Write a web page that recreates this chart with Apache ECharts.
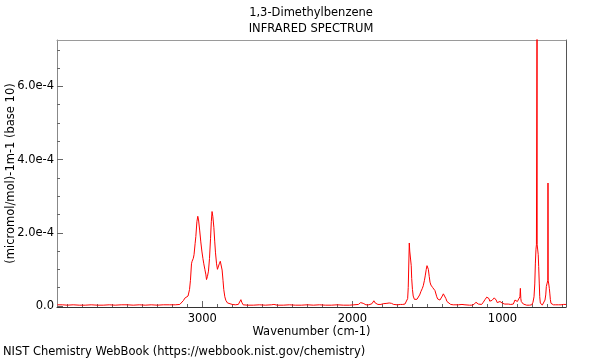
<!DOCTYPE html>
<html>
<head>
<meta charset="utf-8">
<script src="https://cdn.jsdelivr.net/npm/echarts@6/dist/echarts.min.js"></script>
<style>html,body{margin:0;padding:0;background:#fff}#c{width:600px;height:360px}</style>
</head>
<body>
<div id="c"></div>
<script>
// Wavenumber (cm-1), descending
const wavenumbers = [3966,3930,3900,3860,3820,3780,3740,3700,3660,3620,3580,3540,3500,3460,3420,3380,3340,3300,3260,3220,3180,3150,3139,3125,3117,3105,3095,3085,3079,3072,3068,3060,3055,3048,3043,3036,3030,3025,3017,3010,3003,2996,2990,2983,2976,2972,2966,2959,2952,2945,2940,2935,2930,2923,2917,2912,2905,2899,2893,2887,2880,2875,2868,2862,2857,2850,2843,2832,2821,2800,2780,2760,2750,2743,2737,2728,2700,2660,2620,2580,2540,2523,2500,2460,2420,2380,2340,2300,2260,2220,2180,2140,2100,2060,2020,1990,1960,1945,1937,1928,1910,1890,1870,1857,1848,1830,1810,1795,1783,1770,1755,1740,1725,1717,1700,1680,1665,1650,1639,1632,1628,1624,1621,1618,1615,1612,1608,1605,1600,1595,1587,1579,1570,1561,1552,1543,1535,1528,1520,1515,1508,1503,1498,1494,1488,1483,1477,1472,1465,1457,1450,1445,1438,1432,1425,1417,1410,1401,1394,1388,1382,1377,1370,1361,1345,1328,1310,1295,1283,1270,1261,1250,1239,1220,1205,1190,1177,1168,1161,1150,1139,1128,1117,1105,1097,1090,1085,1079,1070,1061,1055,1048,1042,1035,1026,1017,1008,999,985,962,945,928,922,917,909,901,894,888,884,881,878,875,868,861,850,839,820,805,797,790,785,781,777,774,771,770,769,765,762,759,755,752,748,743,735,728,722,717,712,708,704,701,698,697,696,692,688,685,681,677,670,661,645,628,610,595,585,577];
// Absorbance in units of 1e-4 (micromol/mol)-1 m-1
const absorbanceE4 = [0.03,0.03,0.02,0.03,0.02,0.02,0.03,0.02,0.02,0.03,0.02,0.03,0.03,0.02,0.03,0.02,0.03,0.02,0.03,0.03,0.03,0.04,0.05,0.15,0.21,0.23,0.27,0.45,0.7,1.15,1.22,1.3,1.4,1.7,1.9,2.3,2.45,2.35,2.05,1.75,1.5,1.3,1.15,1.0,0.85,0.72,0.8,0.95,1.3,1.85,2.3,2.58,2.45,2.15,1.75,1.45,1.15,1.0,1.05,1.15,1.22,1.18,0.98,0.7,0.45,0.25,0.15,0.08,0.05,0.04,0.03,0.04,0.08,0.17,0.1,0.03,0.02,0.02,0.03,0.02,0.03,0.04,0.02,0.02,0.03,0.02,0.02,0.03,0.02,0.03,0.02,0.02,0.03,0.02,0.02,0.03,0.04,0.09,0.12,0.07,0.03,0.03,0.06,0.14,0.08,0.04,0.04,0.06,0.08,0.07,0.08,0.07,0.04,0.03,0.03,0.04,0.04,0.05,0.07,0.2,0.5,1.2,1.72,1.5,1.55,1.5,1.1,0.75,0.45,0.27,0.18,0.16,0.18,0.22,0.3,0.4,0.47,0.55,0.7,0.82,1.0,1.1,1.08,1.0,0.8,0.65,0.57,0.52,0.5,0.47,0.42,0.38,0.25,0.19,0.16,0.16,0.2,0.27,0.33,0.36,0.3,0.2,0.12,0.07,0.04,0.03,0.03,0.03,0.03,0.04,0.05,0.03,0.02,0.02,0.02,0.04,0.1,0.07,0.05,0.03,0.04,0.1,0.17,0.24,0.27,0.2,0.13,0.12,0.15,0.18,0.22,0.26,0.16,0.09,0.1,0.12,0.09,0.07,0.05,0.05,0.04,0.05,0.1,0.16,0.14,0.12,0.14,0.16,0.25,0.48,0.2,0.12,0.08,0.05,0.03,0.02,0.02,0.03,0.1,0.25,0.6,1.17,1.55,1.67,1.68,7.5,1.67,1.65,1.4,1.08,0.6,0.25,0.08,0.03,0.02,0.02,0.07,0.16,0.3,0.53,0.6,0.65,0.7,3.36,0.7,0.6,0.48,0.35,0.17,0.07,0.04,0.03,0.03,0.03,0.03,0.04,0.03,0.04];

const xMajorTicks = [1000, 2000, 3000];
const xMinorTicks = [600,700,800,900,1100,1200,1300,1400,1500,1600,1700,1800,1900,2100,2200,2300,2400,2500,2600,2700,2800,2900,3100,3200,3300,3400,3500,3600,3700,3800,3900];
const yMajorTicks = [0, 2, 4, 6];
const yMinorTicks = [0.5,1,1.5,2.5,3,3.5,4.5,5,5.5,6.5,7];

const titleLines = ['1,3-Dimethylbenzene', 'INFRARED SPECTRUM'];
const xName = 'Wavenumber (cm-1)';
const yName = '(micromol/mol)-1m-1 (base 10)';
const footer = 'NIST Chemistry WebBook (https://webbook.nist.gov/chemistry)';

const X_MIN = 577, X_MAX = 3968, Y_MIN = -0.03, Y_MAX = 7.27;
const FONT = 'DejaVu Sans';
const FS = 11.5;

const points = wavenumbers.map((w, i) => [w, absorbanceE4[i]]);

const chart = echarts.init(document.getElementById('c'), null, {renderer: 'canvas'});
const common = {type: 'value', min: X_MIN, max: X_MAX, inverse: true, splitLine: {show: false}};
const commonY = {type: 'value', min: Y_MIN, max: Y_MAX, splitLine: {show: false}};
chart.setOption({
  animation: false,
  backgroundColor: '#fff',
  grid: {left: 57, right: 34, top: 40, bottom: 53, containLabel: false, outerBoundsMode: 'none'},
  xAxis: [
    Object.assign({}, common, {
      position: 'bottom',
      axisLine: {show: true, onZero: false, lineStyle: {color: '#333', width: 1}},
      axisTick: {show: true, inside: true, length: 6, customValues: xMajorTicks, lineStyle: {color: '#666'}},
      axisLabel: {show: true, customValues: xMajorTicks, margin: 6, color: '#000', fontSize: FS, fontFamily: FONT,
        formatter: v => String(v)},
      name: xName, nameLocation: 'middle', nameGap: 19, nameMoveOverlap: false,
      nameTextStyle: {color: '#000', fontSize: FS, fontFamily: FONT}
    }),
    Object.assign({}, common, {
      position: 'bottom',
      axisLine: {show: false, onZero: false},
      axisTick: {show: true, inside: true, length: 3, customValues: xMinorTicks, lineStyle: {color: '#666'}},
      axisLabel: {show: false}
    }),
    Object.assign({}, common, {
      position: 'top',
      axisLine: {show: true, onZero: false, lineStyle: {color: '#9a9a9a', width: 1}},
      axisTick: {show: false}, axisLabel: {show: false}
    })
  ],
  yAxis: [
    Object.assign({}, commonY, {
      position: 'left',
      axisLine: {show: true, onZero: false, lineStyle: {color: '#888', width: 1}},
      axisTick: {show: true, inside: true, length: 6, customValues: yMajorTicks, lineStyle: {color: '#666'}},
      axisLabel: {show: true, customValues: yMajorTicks, margin: 3, color: '#000', fontSize: FS, fontFamily: FONT,
        formatter: v => v === 0 ? '0.0' : v.toFixed(1) + 'e-4'},
      name: yName, nameLocation: 'middle', nameGap: 40, nameRotate: 90, nameMoveOverlap: false,
      nameTextStyle: {color: '#000', fontSize: FS, fontFamily: FONT}
    }),
    Object.assign({}, commonY, {
      position: 'left',
      axisLine: {show: false, onZero: false},
      axisTick: {show: true, inside: true, length: 3, customValues: yMinorTicks, lineStyle: {color: '#666'}},
      axisLabel: {show: false}
    }),
    Object.assign({}, commonY, {
      position: 'right',
      axisLine: {show: true, onZero: false, lineStyle: {color: '#555', width: 1}},
      axisTick: {show: false}, axisLabel: {show: false}
    })
  ],
  graphic: [
    {type: 'text', x: 311, y: 13, style: {text: titleLines[0], fill: '#000', font: FS + 'px "' + FONT + '"', textAlign: 'center', textVerticalAlign: 'middle'}},
    {type: 'text', x: 311, y: 29, style: {text: titleLines[1], fill: '#000', font: FS + 'px "' + FONT + '"', textAlign: 'center', textVerticalAlign: 'middle'}},
    {type: 'text', x: 3, y: 352, style: {text: footer, fill: '#000', font: FS + 'px "' + FONT + '"', textAlign: 'left', textVerticalAlign: 'middle'}}
  ],
  series: [{
    type: 'line', xAxisIndex: 0, yAxisIndex: 0, data: points,
    showSymbol: false, symbol: 'none', clip: true,
    lineStyle: {color: '#ff0000', width: 1}
  }]
});
</script>
</body>
</html>
